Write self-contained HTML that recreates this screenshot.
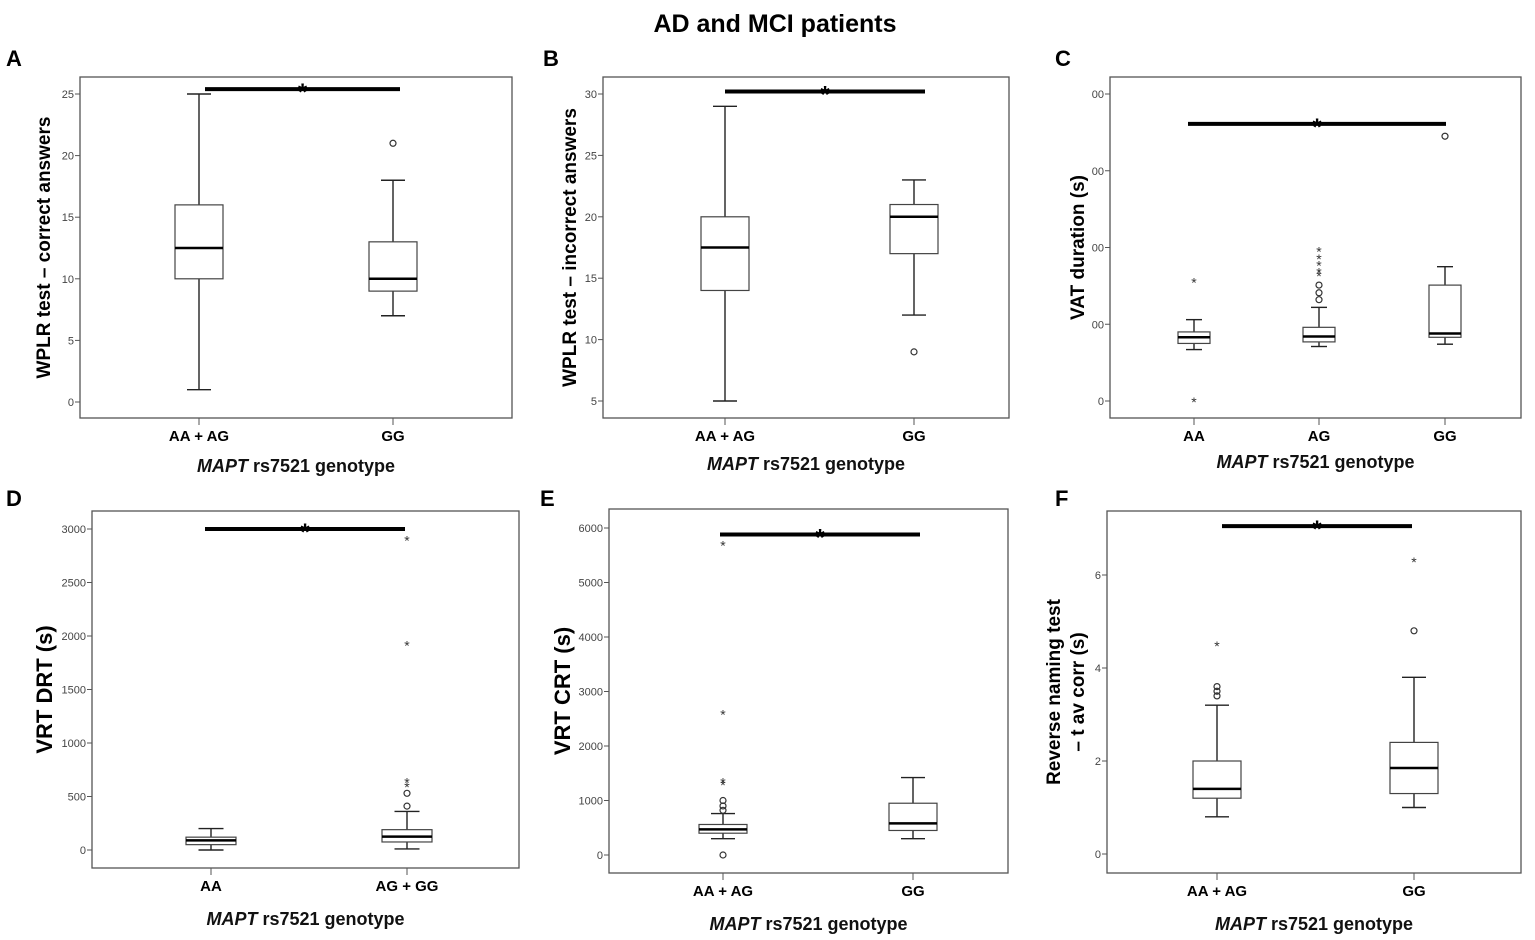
<!DOCTYPE html>
<html><head><meta charset="utf-8"><style>
body{margin:0;background:#fff;}
svg{display:block;font-family:"Liberation Sans",Arial,sans-serif;}
</style></head><body>
<svg id="fig" width="1535" height="940" viewBox="0 0 1535 940">
<text x="775" y="32" text-anchor="middle" font-size="25" font-weight="bold">AD and MCI patients</text>
</svg>
<script>
// Panel A data
const catsA=["AA + AG","GG"];
const boxA=[[1,10,12.5,16,25],[7,9,10,13,18]];
const circA=[[],[21]];
const starA=[[],[]];
const ticksA=[0,5,10,15,20,25];
const sigA=25.4;
// Panel B data
const catsB=["AA + AG","GG"];
const boxB=[[5,14,17.5,20,29],[12,17,20,21,23]];
const circB=[[],[9]];
const starB=[[],[]];
const ticksB=[5,10,15,20,25,30];
const sigB=30.2;
// Panel C data
const catsC=["AA","AG","GG"];
const boxC=[[67,75,83,90,106],[71,77,84,96,122],[74,83,88,151,175]];
const circC=[[],[132,141,151],[345]];
const starC=[[0,156],[164,169,178,186,196],[]];
const ticksC=[0,100,200,300,400];
const tickLabC=["0","00","00","00","00"];
const sigC=361;
// Panel D data
const catsD=["AA","AG + GG"];
const boxD=[[0,50,90,120,200],[10,75,125,190,360]];
const circD=[[],[410,530]];
const starD=[[],[600,640,1920,2900]];
const ticksD=[0,500,1000,1500,2000,2500,3000];
const sigD=3000;
// Panel E data
const catsE=["AA + AG","GG"];
const boxE=[[300,400,470,560,760],[300,450,580,950,1420]];
const circE=[[0,820,900,1000],[]];
const starE=[[1300,1350,2600,5700],[]];
const ticksE=[0,1000,2000,3000,4000,5000,6000];
const sigE=5880;
// Panel F data
const catsF=["AA + AG","GG"];
const boxF=[[0.8,1.2,1.4,2.0,3.2],[1.0,1.3,1.85,2.4,3.8]];
const circF=[[3.4,3.5,3.6],[4.8]];
const starF=[[4.5],[6.3]];
const ticksF=[0,2,4,6];
const sigF=7.05;

const NS="http://www.w3.org/2000/svg";
const fig=document.getElementById('fig');
function mk(tag,attrs,parent){const e=document.createElementNS(NS,tag);for(const k in attrs)e.setAttribute(k,attrs[k]);(parent||fig).appendChild(e);return e;}

function panel(p){
  const g=mk('g',{});
  
  
  const y=v=>p.y0+(v-p.v0)*(p.y1-p.y0)/(p.v1-p.v0);
  const L=mk('text',{x:p.lx,y:p.ly,'font-size':22,'font-weight':'bold'},g);L.textContent=p.id;
  
  
  const fr=mk('rect',{x:p.l,y:p.t,width:p.r-p.l,height:p.b-p.t,fill:'none',stroke:'#555','stroke-width':1.3},g);
  
  
  p.ticks.forEach((t,i)=>{
    const ty=y(t);
    mk('line',{x1:p.l-5,x2:p.l,y1:ty,y2:ty,stroke:'#555'},g);
    const tx=mk('text',{x:p.l-6,y:ty+4,'text-anchor':'end','font-size':11,fill:'#444'},g);
    tx.textContent=p.tickLab?p.tickLab[i]:t;
    
    
  });
  const yt=mk('text',{transform:`translate(${p.ytx},${(p.t+p.b)/2}) rotate(-90)`,'text-anchor':'middle','font-size':p.yfs,'font-weight':'bold'},g);
  if(p.ytitle.length===1){yt.textContent=p.ytitle[0];}
  else{p.ytitle.forEach((s,i)=>{const ts=mk('tspan',{x:0,dy:i?24:0},yt);ts.textContent=s;});}
  
  
  p.cats.forEach((c,i)=>{
    const cx=p.cx[i];
    mk('line',{x1:cx,x2:cx,y1:p.b,y2:p.b+7,stroke:'#555'},g);
    const tl=mk('text',{x:cx,y:p.b+23,'text-anchor':'middle','font-size':15,'font-weight':'bold'},g);tl.textContent=c;
    
    
    const bx=p.box[i],w=p.hw;
    const bg=mk('g',{},g);
    
    
    mk('line',{x1:cx,x2:cx,y1:y(bx[0]),y2:y(bx[1]),stroke:'#222','stroke-width':1.4},bg);
    mk('line',{x1:cx,x2:cx,y1:y(bx[3]),y2:y(bx[4]),stroke:'#222','stroke-width':1.4},bg);
    mk('line',{x1:cx-w/2,x2:cx+w/2,y1:y(bx[0]),y2:y(bx[0]),stroke:'#222','stroke-width':1.4},bg);
    mk('line',{x1:cx-w/2,x2:cx+w/2,y1:y(bx[4]),y2:y(bx[4]),stroke:'#222','stroke-width':1.4},bg);
    mk('rect',{x:cx-w,y:y(bx[3]),width:2*w,height:y(bx[1])-y(bx[3]),fill:'#fff',stroke:'#444','stroke-width':1.2},bg);
    mk('line',{x1:cx-w,x2:cx+w,y1:y(bx[2]),y2:y(bx[2]),stroke:'#000','stroke-width':2.5},bg);
    p.circ[i].forEach(v=>{const o=mk('circle',{cx:cx,cy:y(v),r:3,fill:'none',stroke:'#333','stroke-width':1.2},g);
      
      });
    p.star[i].forEach(v=>{const s=mk('text',{x:cx,y:y(v)+6,'text-anchor':'middle','font-size':14,fill:'#333'},g);s.textContent='*';
      
      });
  });
  const sb=mk('line',{x1:p.sx[0],x2:p.sx[1],y1:y(p.sig),y2:y(p.sig),stroke:'#000','stroke-width':4},g);
  
  
  const st=mk('text',{x:(p.sx[0]+p.sx[1])/2,y:y(p.sig)+11,'text-anchor':'middle','font-size':24,'font-weight':'bold'},g);st.textContent='*';
  
  
  const xt=mk('text',{x:(p.l+p.r)/2,y:p.xty,'text-anchor':'middle','font-size':18,'font-weight':'bold',fill:'#111'},g);
  const it=mk('tspan',{'font-style':'italic'},xt);it.textContent='MAPT';
  const rt=mk('tspan',{},xt);rt.textContent=' rs7521 genotype';
  
  
}
panel({id:'A',lx:6,ly:66,l:80,r:512,t:77,b:418,y0:402,y1:94,v0:0,v1:25,ticks:ticksA,cats:catsA,cx:[199,393],hw:24,box:boxA,circ:circA,star:starA,sig:sigA,sx:[205,400],ytitle:['WPLR test – correct answers'],ytx:50,yfs:19,xty:472});
panel({id:'B',lx:543,ly:66,l:603,r:1009,t:77,b:418,y0:401,y1:94,v0:5,v1:30,ticks:ticksB,cats:catsB,cx:[725,914],hw:24,box:boxB,circ:circB,star:starB,sig:sigB,sx:[725,925],ytitle:['WPLR test – incorrect answers'],ytx:576,yfs:19,xty:470});
panel({id:'C',lx:1055,ly:66,l:1110,r:1521,t:77,b:418,y0:401,y1:94,v0:0,v1:400,ticks:ticksC,tickLab:tickLabC,cats:catsC,cx:[1194,1319,1445],hw:16,box:boxC,circ:circC,star:starC,sig:sigC,sx:[1188,1446],ytitle:['VAT duration (s)'],ytx:1084,yfs:19,xty:468});
panel({id:'D',lx:6,ly:506,l:92,r:519,t:511,b:868,y0:850,y1:529,v0:0,v1:3000,ticks:ticksD,cats:catsD,cx:[211,407],hw:25,box:boxD,circ:circD,star:starD,sig:sigD,sx:[205,405],ytitle:['VRT DRT (s)'],ytx:52,yfs:22,xty:925});
panel({id:'E',lx:540,ly:506,l:609,r:1008,t:509,b:873,y0:855,y1:528,v0:0,v1:6000,ticks:ticksE,cats:catsE,cx:[723,913],hw:24,box:boxE,circ:circE,star:starE,sig:sigE,sx:[720,920],ytitle:['VRT CRT (s)'],ytx:570,yfs:22,xty:930});
panel({id:'F',lx:1055,ly:506,l:1107,r:1521,t:511,b:873,y0:854,y1:575,v0:0,v1:6,ticks:ticksF,cats:catsF,cx:[1217,1414],hw:24,box:boxF,circ:circF,star:starF,sig:sigF,sx:[1222,1412],ytitle:['Reverse naming test','– t av corr (s)'],ytx:1060,yfs:19,xty:930});
</script>
</body></html>
